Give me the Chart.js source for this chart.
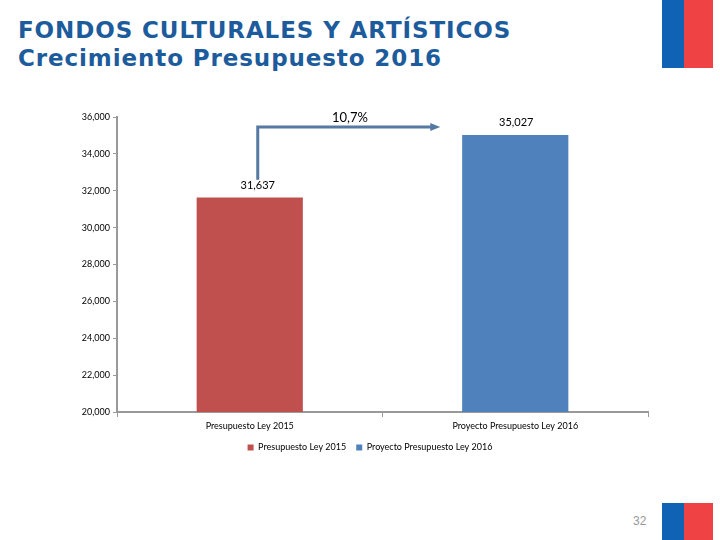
<!DOCTYPE html>
<html>
<head>
<meta charset="utf-8">
<script src="https://cdn.jsdelivr.net/npm/chart.js@4/dist/chart.umd.min.js"></script>
<style>
  html, body { margin: 0; padding: 0; background: #fff; }
  #page { position: relative; width: 720px; height: 540px; overflow: hidden; background: #fff; }
  .title { position: absolute; left: 18px; font-family: "DejaVu Sans", sans-serif; font-weight: bold; font-size: 23px; letter-spacing: 0.9px; color: #1c5b9c; white-space: nowrap; }
  #t1 { top: 17px; }
  #t2 { top: 45px; }
  .flag { position: absolute; }
  #pagenum { position: absolute; left: 633px; top: 514px; font-family: "Liberation Sans", sans-serif; font-size: 12px; color: #999; }
  #chartbox { position: absolute; left: 0; top: 0; width: 720px; height: 540px; }
</style>
</head>
<body>
<div id="page">
  <div class="title" id="t1">FONDOS CULTURALES Y ARTÍSTICOS</div>
  <div class="title" id="t2">Crecimiento Presupuesto 2016</div>
  <div class="flag" style="left:662px;top:0;width:22px;height:68px;background:#1062b4"></div>
  <div class="flag" style="left:684px;top:0;width:29px;height:68px;background:#ee4245"></div>
  <div class="flag" style="left:662px;top:503px;width:22px;height:37px;background:#1062b4"></div>
  <div class="flag" style="left:684px;top:503px;width:29px;height:37px;background:#ee4245"></div>
  <div id="pagenum">32</div>
  <div id="chartbox"><canvas id="c" width="720" height="540"></canvas></div>
</div>
<script>
const categories = ["Presupuesto Ley 2015", "Proyecto Presupuesto Ley 2016"];
const seriesNames = ["Presupuesto Ley 2015", "Proyecto Presupuesto Ley 2016"];
const values2015 = [31637, null];
const values2016 = [null, 35027];
const dataLabels = ["31,637", "35,027"];
const growthLabel = "10,7%";
const yTicks = [20000, 22000, 24000, 26000, 28000, 30000, 32000, 34000, 36000];

const FONT = "Lato, 'Open Sans', sans-serif";

const legendShift = {
  id: 'legendShift',
  afterLayout(chart) {
    if (chart.legend) {
      chart.legend.left = 92;
      if (chart.legend.adjustHitBoxes) chart.legend.adjustHitBoxes();
    }
  }
};

const annot = {
  id: 'annot',
  afterDatasetsDraw(chart) {
    const ctx = chart.ctx;
    const x = chart.scales.x, y = chart.scales.y;
    ctx.save();
    ctx.fillStyle = '#000';
    ctx.font = "11px " + FONT;
    ctx.textAlign = 'center';
    ctx.textBaseline = 'bottom';
    const v = [values2015[0], values2016[1]];
    ctx.fillText(dataLabels[0], x.getPixelForValue(0) + 8, y.getPixelForValue(v[0]) - 6);
    ctx.fillText(dataLabels[1], x.getPixelForValue(1) + 1, y.getPixelForValue(v[1]) - 7);
    // growth arrow
    const x0 = x.getPixelForValue(0) + 8;
    const x1 = x.getPixelForValue(1) - 77;
    const yStart = y.getPixelForValue(32600);
    const yTop = y.getPixelForValue(35460);
    ctx.strokeStyle = '#5679a3';
    ctx.lineWidth = 3;
    ctx.beginPath();
    ctx.moveTo(x0, yStart);
    ctx.lineTo(x0, yTop);
    ctx.lineTo(x1 - 6, yTop);
    ctx.stroke();
    ctx.fillStyle = '#5679a3';
    ctx.beginPath();
    ctx.moveTo(x1 + 2, yTop);
    ctx.lineTo(x1 - 8, yTop - 4);
    ctx.lineTo(x1 - 8, yTop + 4);
    ctx.closePath();
    ctx.fill();
    ctx.fillStyle = '#000';
    ctx.font = "13px " + FONT;
    ctx.textBaseline = 'bottom';
    ctx.fillText(growthLabel, (x0 + x1) / 2 + 2, yTop - 3);
    ctx.restore();
  }
};

new Chart(document.getElementById('c'), {
  type: 'bar',
  data: {
    labels: categories,
    datasets: [
      { label: seriesNames[0], data: values2015, backgroundColor: '#c0504d', borderWidth: 0, categoryPercentage: 0.4, barPercentage: 1.0, skipNull: true },
      { label: seriesNames[1], data: values2016, backgroundColor: '#4f81bd', borderWidth: 0, categoryPercentage: 0.4, barPercentage: 1.0, skipNull: true }
    ]
  },
  options: {
    responsive: false,
    animation: false,
    layout: { padding: { left: 0, right: 72, top: 117, bottom: 78 } },
    datasets: { bar: { grouped: false } },
    plugins: {
      legend: {
        position: 'bottom',
        labels: { boxWidth: 6, boxHeight: 6, padding: 10, color: '#000', font: { family: FONT, size: 9 } }
      },
      tooltip: { enabled: false }
    },
    scales: {
      x: {
        grid: { display: true, drawOnChartArea: false, drawTicks: true, tickLength: 5, color: '#999', offset: true },
        border: { display: true, color: '#999', width: 2 },
        ticks: { color: '#000', font: { family: FONT, size: 9 }, padding: 4 },
        afterFit(s) { s.height = 21; }
      },
      y: {
        min: 20000, max: 36000,
        afterBuildTicks(s) { s.ticks = yTicks.map(v => ({ value: v })); },
        grid: { display: true, drawOnChartArea: false, drawTicks: true, tickLength: 4, color: '#999' },
        border: { display: true, color: '#999', width: 2 },
        ticks: { color: '#000', font: { family: FONT, size: 9 }, padding: 3,
          callback: v => v.toLocaleString('en-US') },
        afterFit(s) { s.width = 117; }
      }
    }
  },
  plugins: [legendShift, annot]
});
</script>
</body>
</html>
